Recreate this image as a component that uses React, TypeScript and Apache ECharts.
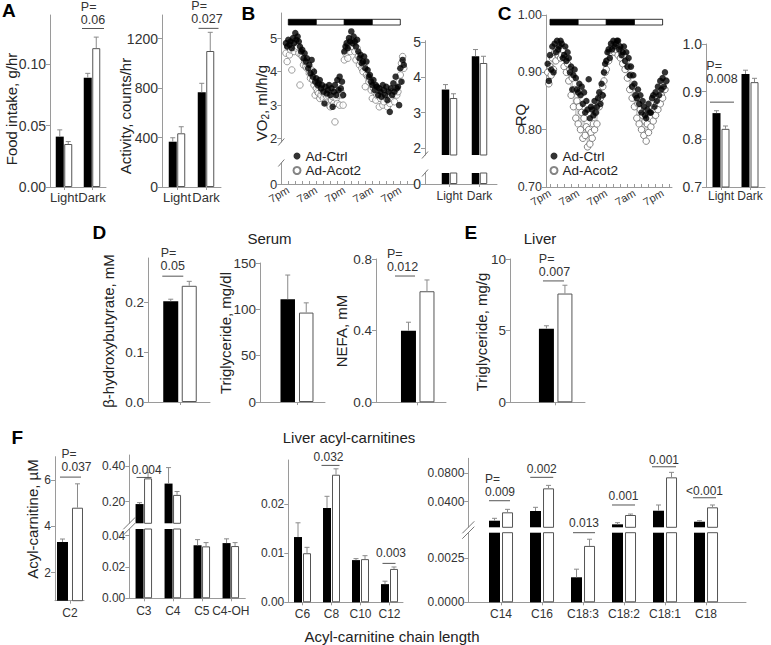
import React, { useEffect, useRef } from "react";
import * as echarts from "echarts";

const FONT = '"Liberation Sans", Arial, Helvetica, sans-serif';
const AXIS = "#9a9a9a";
const TXT = "#333";
const ERR = "#8a8a8a";

// ---------------- Panel A ----------------
const periods = ["Light", "Dark"];
const foodCtrl = [0.041, 0.089];
const foodCtrlSem = [0.0055, 0.0035];
const foodAcot = [0.035, 0.113];
const foodAcotSem = [0.002, 0.009];
const actCtrl = [366, 765];
const actCtrlSem = [32, 73];
const actAcot = [434, 1099];
const actAcotSem = [53, 151];

// ---------------- Panel B / C time courses ----------------
const clockTicks = [0, 12, 24, 36, 48];
const clockLabels = ["7pm", "7am", "7pm", "7am", "7pm"];
const ldStart = [0, 12, 24, 36];
const ldEnd = [12, 24, 36, 48];
const ldDark = [1, 0, 1, 0];
const T0 = -1; // first reading, hours from 7pm
const DT = 0.5; // reading interval, hours

const vo2Ctrl = [
  4.85, 4.75, 4.95, 4.8, 4.9, 4.7, 5.0, 4.85, 5.15, 4.95, 5.05, 4.9, 4.75, 4.6, 4.65, 4.4, 4.55, 4.3, 4.4, 4.1,
  4.2, 3.95, 4.35, 3.85, 4.0, 3.7, 3.8, 3.6, 3.65, 3.75, 3.5, 3.6, 3.4, 3.05, 3.55, 3.35, 3.45, 3.6, 3.3, 3.5,
  2.95, 3.4, 3.6, 3.3, 3.75, 3.45, 3.85, 3.5, 3.7, 3.3, 4.6, 4.75, 4.85, 4.7, 5.0, 4.9, 5.2, 4.85, 5.05, 4.9,
  4.75, 4.95, 4.6, 4.4, 4.5, 4.25, 4.3, 4.45, 4.1, 4.3, 4.05, 3.85, 3.9, 3.7, 3.6, 3.75, 3.45, 3.6, 3.55, 3.3,
  3.5, 3.4, 3.25, 3.6, 3.45, 3.3, 3.55, 3.15, 3.4, 2.8, 3.5, 3.3, 3.65, 3.4, 3.85, 3.5, 3.55, 3.0, 4.1, 3.7,
  4.35, 4.2,
];
const vo2Acot = [
  4.55, 4.3, 4.75, 4.5, 4.65, 4.05, 4.8, 4.6, 4.9, 4.7, 4.75, 4.55, 3.6, 4.5, 4.45, 4.2, 4.3, 4.15, 4.1, 4.25,
  3.95, 3.8, 4.05, 3.75, 3.6, 3.3, 3.5, 3.4, 3.35, 3.2, 3.3, 3.4, 3.2, 3.35, 3.1, 3.25, 3.3, 3.0, 2.95, 3.15,
  3.25, 3.05, 2.5, 3.2, 3.05, 3.3, 3.0, 3.4, 3.3, 3.0, 4.35, 4.55, 4.7, 4.4, 4.8, 4.6, 4.95, 4.75, 4.85, 4.6,
  4.35, 4.7, 4.45, 4.2, 4.3, 4.1, 4.0, 4.15, 3.55, 3.9, 3.85, 3.7, 3.75, 3.45, 3.2, 3.5, 3.4, 3.15, 3.3, 3.45,
  2.95, 3.2, 3.25, 3.0, 3.1, 3.35, 3.2, 2.95, 3.3, 3.05, 3.2, 3.4, 3.35, 3.1, 3.5, 3.3, 3.4, 3.7, 3.9, 4.25,
  4.45, 4.1,
];
const rqCtrl = [
  0.915, 0.885, 0.93, 0.905, 0.945, 0.9, 0.95, 0.935, 0.955, 0.94, 0.945, 0.955, 0.95, 0.925, 0.93, 0.945, 0.92, 0.935, 0.925, 0.9,
  0.91, 0.87, 0.895, 0.905, 0.89, 0.87, 0.865, 0.88, 0.86, 0.875, 0.845, 0.865, 0.83, 0.85, 0.835, 0.888, 0.82, 0.84, 0.835, 0.825,
  0.85, 0.83, 0.84, 0.855, 0.865, 0.845, 0.88, 0.86, 0.9, 0.915, 0.92, 0.935, 0.94, 0.925, 0.95, 0.94, 0.955, 0.945, 0.95, 0.955,
  0.955, 0.94, 0.945, 0.93, 0.935, 0.945, 0.92, 0.935, 0.91, 0.925, 0.895, 0.91, 0.875, 0.895, 0.88, 0.86, 0.855, 0.87, 0.845, 0.86,
  0.83, 0.85, 0.84, 0.825, 0.82, 0.835, 0.845, 0.83, 0.83, 0.855, 0.86, 0.84, 0.865, 0.85, 0.875, 0.86, 0.885, 0.87, 0.89, 0.875,
  0.9, 0.885,
];
const rqAcot = [
  0.9, 0.88, 0.91, 0.895, 0.925, 0.905, 0.935, 0.92, 0.94, 0.93, 0.945, 0.925, 0.93, 0.94, 0.91, 0.925, 0.9, 0.915, 0.885, 0.905,
  0.86, 0.89, 0.84, 0.87, 0.82, 0.85, 0.81, 0.84, 0.8, 0.83, 0.785, 0.82, 0.79, 0.805, 0.77, 0.8, 0.775, 0.795, 0.785, 0.81,
  0.8, 0.83, 0.81, 0.84, 0.84, 0.855, 0.86, 0.875, 0.885, 0.9, 0.905, 0.92, 0.92, 0.935, 0.935, 0.945, 0.945, 0.935, 0.94, 0.95,
  0.93, 0.945, 0.925, 0.935, 0.915, 0.93, 0.905, 0.92, 0.89, 0.91, 0.87, 0.895, 0.855, 0.875, 0.84, 0.86, 0.82, 0.845, 0.81, 0.835,
  0.8, 0.825, 0.79, 0.815, 0.78, 0.81, 0.795, 0.82, 0.805, 0.83, 0.815, 0.835, 0.825, 0.845, 0.835, 0.85, 0.845, 0.86, 0.855, 0.87,
  0.87, 0.885,
];
const vo2BarCtrl = [3.65, 4.59];
const vo2BarCtrlSem = [0.14, 0.19];
const vo2BarAcot = [3.41, 4.4];
const vo2BarAcotSem = [0.12, 0.19];
const rqBarCtrl = [0.855, 0.937];
const rqBarCtrlSem = [0.005, 0.008];
const rqBarAcot = [0.822, 0.92];
const rqBarAcotSem = [0.006, 0.008];

// ---------------- Panel D / E ----------------
const bhbCtrl = [0.203];
const bhbCtrlSem = [0.004];
const bhbAcot = [0.234];
const bhbAcotSem = [0.009];
const serumTgCtrl = [111];
const serumTgCtrlSem = [26];
const serumTgAcot = [96.5];
const serumTgAcotSem = [10.5];
const nefaCtrl = [0.4];
const nefaCtrlSem = [0.047];
const nefaAcot = [0.62];
const nefaAcotSem = [0.063];
const liverTgCtrl = [5.14];
const liverTgCtrlSem = [0.2];
const liverTgAcot = [7.59];
const liverTgAcotSem = [0.58];

// ---------------- Panel F ----------------
const acC2 = ["C2"];
const c2Ctrl = [3.32];
const c2CtrlSem = [0.13];
const c2Acot = [4.8];
const c2AcotSem = [1.03];
const acShort = ["C3", "C4", "C5", "C4-OH"];
const shortCtrl = [0.187, 0.301, 0.0339, 0.0353];
const shortCtrlSem = [0.008, 0.089, 0.0036, 0.0027];
const shortAcot = [0.33, 0.238, 0.0332, 0.0334];
const shortAcotSem = [0.032, 0.019, 0.0024, 0.0022];
const acMedium = ["C6", "C8", "C10", "C12"];
const medCtrl = [0.0133, 0.0192, 0.0086, 0.0037];
const medCtrlSem = [0.0029, 0.0024, 0.0003, 0.0006];
const medAcot = [0.01, 0.026, 0.0088, 0.0068];
const medAcotSem = [0.0012, 0.0012, 0.0007, 0.0004];
const acLong = ["C14", "C16", "C18:3", "C18:2", "C18:1", "C18"];
const longCtrl = [0.0138, 0.0272, 0.00142, 0.0088, 0.0276, 0.0124];
const longCtrlSem = [0.0033, 0.0051, 0.00046, 0.0023, 0.0079, 0.0014];
const longAcot = [0.0254, 0.0585, 0.0032, 0.0217, 0.0737, 0.0323];
const longAcotSem = [0.0041, 0.0041, 0.00038, 0.0013, 0.0069, 0.0032];

// ---------------- P-value annotations ----------------
const sigFood = [{ cat: 2, y: 0.129, text: "0.06", p: true, dx: 1, half: 11, tdy: -9 }];
const sigAct = [{ cat: 2, y: 1282, text: "0.027", p: true, dx: 2.5, half: 10, tdy: -9, tdx: -1.5 }];
const sigRq = [{ cat: 1, y: 0.878, text: "0.008", p: true, dx: 1, half: 12, tdy: -23 }];
const sigBhb = [{ cat: 1, y: 0.2534, text: "0.05", p: true, dx: -7.2, half: 10.5, tdy: -10 }];
const sigNefa = [{ cat: 1, y: 0.705, text: "0.012", p: true, dx: -12.7, half: 10, tdy: -9.3, tdx: -2.5 }];
const sigLiverTg = [{ cat: 1, y: 8.47, text: "0.007", p: true, dx: -2.2, half: 10.5, tdy: -9.3, tdx: 1 }];
const sigC2 = [{ cat: 1, y: 6.12, text: "0.037", p: true, dx: 0.5, half: 10.5, tdy: -10.6, tdx: 6 }];
const sigShort = [{ cat: 1, y: 0.335, text: "0.004", dx: 0.2, half: 7.5, tdy: -7, tdx: 2.7 }];
const sigMed = [
  { cat: 2, y: 0.0279, text: "0.032", dx: -1, half: 9, tdy: -8.3, tdx: -2 },
  { cat: 4, y: 0.00793, text: "0.003", dx: -0.5, half: 6.5, tdy: -10.6, tdx: 2 },
];
const sigLongUpper = [
  { cat: 1, y: 0.0414, text: "0.009", p: true, dx: -1.5, half: 10.5, tdy: -9, tdx: 0.5 },
  { cat: 2, y: 0.0737, text: "0.002", dx: -0.3, half: 11.5, tdy: -8 },
  { cat: 4, y: 0.0355, text: "0.001", dx: -0.5, half: 11.5, tdy: -9.3 },
  { cat: 5, y: 0.0883, text: "0.001", dx: -1, half: 12, tdy: -6.7 },
  { cat: 6, y: 0.0455, text: "<0.001", dx: -1.5, half: 11.5, tdy: -7 },
];
const sigLongLower = [{ cat: 3, y: 0.00395, text: "0.013", dx: 1, half: 11, tdy: -9.4 }];

let measureCtx: CanvasRenderingContext2D | null = null;
function textWidth(t: string, size: number) {
  if (!measureCtx) measureCtx = document.createElement("canvas").getContext("2d");
  if (!measureCtx) return t.length * size * 0.55;
  measureCtx.font = `${size}px ${FONT}`;
  return measureCtx.measureText(t).width;
}

function buildOption() {
  const grid: any[] = [];
  const xAxis: any[] = [];
  const yAxis: any[] = [];
  const series: any[] = [];
  const graphic: any[] = [];

  const addGrid = (b: any, xa: any, ya: any) => {
    const i = grid.length;
    grid.push({ left: b.l, top: b.t, width: b.r - b.l, height: b.b - b.t, containLabel: false });
    xAxis.push({ gridIndex: i, ...xa });
    yAxis.push({ gridIndex: i, ...ya });
    return i;
  };

  const yAx = (min: number, max: number, ticks: number[], dec: number, fs: number) => ({
    type: "value",
    min,
    max,
    axisLine: { show: true, onZero: false, lineStyle: { color: AXIS, width: 1 } },
    axisTick: { show: true, length: 4, customValues: ticks, lineStyle: { color: AXIS, width: 1 } },
    axisLabel: {
      show: true,
      customValues: ticks,
      margin: 4,
      color: TXT,
      fontSize: fs,
      fontFamily: FONT,
      formatter: (v: number) => Number(v).toFixed(dec),
    },
    splitLine: { show: false },
  });

  const xCat = (min: number, max: number, names: string[], fs: number, margin: number, showLabels = true) => {
    const pos = names.map((_, i) => i + 1);
    return {
      type: "value",
      min,
      max,
      axisLine: { show: true, onZero: false, lineStyle: { color: AXIS, width: 1 } },
      axisTick: { show: true, length: 3, customValues: pos, lineStyle: { color: AXIS, width: 1 } },
      axisLabel: {
        show: showLabels,
        customValues: pos,
        margin,
        color: TXT,
        fontSize: fs,
        fontFamily: FONT,
        formatter: (v: number) => names[Math.round(v) - 1] ?? "",
      },
      splitLine: { show: false },
    };
  };

  const xHidden = (min: number, max: number) => ({ type: "value", min, max, show: false, splitLine: { show: false } });

  const hourTicks: number[] = [];
  for (let h = -3; h <= 54; h += 3) hourTicks.push(h);

  const xTime = (min: number, max: number, fs: number) => ({
    type: "value",
    min,
    max,
    axisLine: { show: true, onZero: false, lineStyle: { color: AXIS, width: 1 } },
    axisTick: {
      show: true,
      inside: true,
      length: 3,
      customValues: hourTicks.filter((h) => h >= min && h <= max),
      lineStyle: { color: AXIS, width: 1 },
    },
    axisLabel: {
      show: true,
      customValues: clockTicks,
      rotate: 30,
      margin: 5,
      color: TXT,
      fontSize: fs,
      fontFamily: FONT,
      formatter: (v: number) => {
        const k = clockTicks.findIndex((c) => Math.abs(c - v) < 1e-6);
        return k >= 0 ? clockLabels[k] : "";
      },
    },
    splitLine: { show: false },
  });

  const addErr = (gi: number, vals: number[], sem: number[], off: number, lo: number, hi: number) => {
    const data = vals
      .map((v, i) => [i + 1, v, sem[i]])
      .filter((d) => d[1] >= lo && d[1] <= hi);
    series.push({
      type: "custom",
      xAxisIndex: gi,
      yAxisIndex: gi,
      silent: true,
      clip: true,
      z: 3,
      data,
      renderItem: (params: any, api: any) => {
        const x = api.value(0);
        const y = api.value(1);
        const e = api.value(2);
        const p0 = api.coord([x, y]);
        const p1 = api.coord([x, y + e]);
        const px = p0[0] + off;
        return {
          type: "group",
          children: [
            { type: "line", shape: { x1: px, y1: p0[1], x2: px, y2: p1[1] }, style: { stroke: ERR, lineWidth: 1 } },
            { type: "line", shape: { x1: px - 2.5, y1: p1[1], x2: px + 2.5, y2: p1[1] }, style: { stroke: ERR, lineWidth: 1 } },
          ],
        };
      },
    });
  };

  const addBars = (
    gi: number,
    c: number[],
    cs: number[],
    a: number[],
    as: number[],
    bw: number,
    gap: number,
    lo = -Infinity,
    hi = Infinity
  ) => {
    const gapPct = `${(gap / bw) * 100}%`;
    series.push({
      type: "bar",
      name: "ctrl-bar",
      xAxisIndex: gi,
      yAxisIndex: gi,
      data: c.map((v, i) => [i + 1, v]),
      barWidth: bw,
      barGap: gapPct,
      clip: true,
      silent: true,
      itemStyle: { color: "#000", borderColor: "#000", borderWidth: 0 },
    });
    series.push({
      type: "bar",
      name: "acot-bar",
      xAxisIndex: gi,
      yAxisIndex: gi,
      data: a.map((v, i) => [i + 1, v]),
      barWidth: bw,
      barGap: gapPct,
      clip: true,
      silent: true,
      itemStyle: { color: "#fff", borderColor: "#555", borderWidth: 1 },
    });
    const off = (bw + gap) / 2;
    addErr(gi, c, cs, -off, lo, hi);
    addErr(gi, a, as, off, lo, hi);
  };

  const addSig = (gi: number, items: any[], fs: number) => {
    series.push({
      type: "custom",
      xAxisIndex: gi,
      yAxisIndex: gi,
      silent: true,
      clip: false,
      z: 6,
      data: items.map((s) => [s.cat, s.y]),
      renderItem: (params: any, api: any) => {
        const s = items[params.dataIndex];
        const p = api.coord([api.value(0), api.value(1)]);
        const cx = p[0] + s.dx;
        const tx = cx + (s.tdx || 0);
        const ty = p[1] + s.tdy;
        const baseStyle = { fontSize: fs, fontFamily: FONT, fill: TXT };
        const children: any[] = [
          { type: "line", shape: { x1: cx - s.half, y1: p[1], x2: cx + s.half, y2: p[1] }, style: { stroke: "#555", lineWidth: 1 } },
          {
            type: "text",
            x: tx,
            y: ty,
            style: { ...baseStyle, text: s.text, align: "center", verticalAlign: "middle", textAlign: "center", textVerticalAlign: "middle" },
          },
        ];
        if (s.p) {
          children.push({
            type: "text",
            x: tx - textWidth(s.text, fs) / 2,
            y: ty - 13,
            style: { ...baseStyle, text: "P=", align: "left", verticalAlign: "middle", textAlign: "left", textVerticalAlign: "middle" },
          });
        }
        return { type: "group", children };
      },
    });
  };

  const addLD = (gi: number, yOff: number, h: number, yRef: number) => {
    series.push({
      type: "custom",
      xAxisIndex: gi,
      yAxisIndex: gi,
      silent: true,
      clip: false,
      z: 6,
      data: ldStart.map((s, i) => [s, ldEnd[i], ldDark[i]]),
      renderItem: (params: any, api: any) => {
        const cs = params.coordSys;
        const x0 = api.coord([api.value(0), yRef])[0];
        const x1 = api.coord([api.value(1), yRef])[0];
        return {
          type: "rect",
          shape: { x: x0, y: cs.y + yOff, width: x1 - x0, height: h },
          style: { fill: api.value(2) ? "#000" : "#fff", stroke: "#000", lineWidth: 0.8 },
        };
      },
    });
  };

  const timeData = (vals: number[]) => vals.map((v, i) => [T0 + i * DT, v]);

  // ---------- Panel A ----------
  const gFood = addGrid({ l: 50, t: 15, r: 106, b: 187 }, xCat(0.5, 2.5, periods, 13, 4), yAx(0, 0.14, [0, 0.05, 0.1], 2, 14));
  addBars(gFood, foodCtrl, foodCtrlSem, foodAcot, foodAcotSem, 8, 0.5);
  addSig(gFood, sigFood, 12.5);

  const gAct = addGrid({ l: 162, t: 15, r: 221, b: 187 }, xCat(0.483, 2.517, periods, 13, 4), yAx(0, 1390, [0, 400, 800, 1200], 0, 14));
  addBars(gAct, actCtrl, actCtrlSem, actAcot, actAcotSem, 8, 0.5);
  addSig(gAct, sigAct, 12.5);

  // ---------- Panel B ----------
  const gVo2U = addGrid({ l: 281.3, t: 13, r: 414.3, b: 142 }, xHidden(-3, 54), yAx(1.9, 5.75, [2, 3, 4, 5], 0, 13));
  const gVo2L = addGrid({ l: 281.3, t: 163, r: 414.3, b: 184 }, xTime(-3, 54, 11), yAx(0, 0.63, [0], 0, 13));
  series.push({
    type: "scatter",
    name: "Ad-Acot2",
    xAxisIndex: gVo2U,
    yAxisIndex: gVo2U,
    data: timeData(vo2Acot),
    symbol: "circle",
    symbolSize: 6.5,
    silent: true,
    itemStyle: { color: "#fff", borderColor: "#666", borderWidth: 0.8 },
    z: 2,
  });
  series.push({
    type: "scatter",
    name: "Ad-Ctrl",
    xAxisIndex: gVo2U,
    yAxisIndex: gVo2U,
    data: timeData(vo2Ctrl),
    symbol: "circle",
    symbolSize: 6.5,
    silent: true,
    itemStyle: { color: "#000" },
    z: 3,
  });
  addLD(gVo2U, 6.3, 5.7, 5);

  const gVbU = addGrid({ l: 425, t: 40.7, r: 497, b: 155 }, xHidden(0.183, 2.583), yAx(1.8, 5.03, [2, 3, 4, 5], 0, 14));
  const gVbL = addGrid({ l: 425, t: 173, r: 497, b: 184 }, xCat(0.183, 2.583, periods, 12, 6), yAx(0, 0.31, [0], 0, 14));
  addBars(gVbU, vo2BarCtrl, vo2BarCtrlSem, vo2BarAcot, vo2BarAcotSem, 7.5, 0.5, 1.8, Infinity);
  addBars(gVbL, vo2BarCtrl, vo2BarCtrlSem, vo2BarAcot, vo2BarAcotSem, 7.5, 0.5, -Infinity, 0.31);

  // ---------- Panel C ----------
  const gRq = addGrid({ l: 546, t: 15, r: 672, b: 187 }, xTime(-1.7, 52, 11), yAx(0.7, 1.0, [0.7, 0.8, 0.9, 1.0], 2, 12.5));
  series.push({
    type: "line",
    name: "Ad-Acot2",
    xAxisIndex: gRq,
    yAxisIndex: gRq,
    data: timeData(rqAcot),
    symbol: "circle",
    symbolSize: 6.5,
    showSymbol: true,
    silent: true,
    lineStyle: { color: "#b0b0b0", width: 0.6 },
    itemStyle: { color: "#fff", borderColor: "#666", borderWidth: 0.8 },
    z: 2,
  });
  series.push({
    type: "scatter",
    name: "Ad-Ctrl",
    xAxisIndex: gRq,
    yAxisIndex: gRq,
    data: timeData(rqCtrl),
    symbol: "circle",
    symbolSize: 6.5,
    silent: true,
    itemStyle: { color: "#000" },
    z: 3,
  });
  addLD(gRq, 4.3, 5.7, 0.9);

  const gRqB = addGrid({ l: 706, t: 44, r: 765, b: 187 }, xCat(0.483, 2.517, periods, 12, 3), yAx(0.7, 1.0, [0.7, 0.8, 0.9, 1.0], 1, 14));
  addBars(gRqB, rqBarCtrl, rqBarCtrlSem, rqBarAcot, rqBarAcotSem, 8, 1);
  addSig(gRqB, sigRq, 12.5);

  // ---------- Panel D ----------
  const gBhb = addGrid({ l: 148, t: 258, r: 210, b: 402 }, xCat(0.484, 1.484, ["Serum"], 12, 4, false), yAx(0, 0.29, [0, 0.1, 0.2], 1, 13.5));
  addBars(gBhb, bhbCtrl, bhbCtrlSem, bhbAcot, bhbAcotSem, 15, 3.5);
  addSig(gBhb, sigBhb, 12.5);

  const gTg = addGrid({ l: 260, t: 263, r: 325, b: 402 }, xCat(0.431, 1.431, ["Serum"], 12, 4, false), yAx(0, 150, [0, 50, 100, 150], 0, 13.5));
  addBars(gTg, serumTgCtrl, serumTgCtrlSem, serumTgAcot, serumTgAcotSem, 14.5, 4);

  const gNefa = addGrid({ l: 376, t: 259, r: 446, b: 402.3 }, xCat(0.404, 1.404, ["Serum"], 12, 4, false), yAx(0, 0.8, [0, 0.4, 0.8], 1, 13.5));
  addBars(gNefa, nefaCtrl, nefaCtrlSem, nefaAcot, nefaAcotSem, 15, 3.5);
  addSig(gNefa, sigNefa, 12.5);

  // ---------- Panel E ----------
  const gLtg = addGrid({ l: 510, t: 259, r: 585, b: 402.3 }, xCat(0.391, 1.391, ["Liver"], 12, 4, false), yAx(0, 10, [0, 5, 10], 0, 13.5));
  addBars(gLtg, liverTgCtrl, liverTgCtrlSem, liverTgAcot, liverTgAcotSem, 15, 3.5);
  addSig(gLtg, sigLiverTg, 12.5);

  // ---------- Panel F ----------
  const gC2 = addGrid({ l: 55, t: 456.7, r: 84, b: 600.7 }, xCat(0.483, 1.483, acC2, 12, 6), yAx(0.79, 7.0, [2, 4, 6], 0, 12));
  addBars(gC2, c2Ctrl, c2CtrlSem, c2Acot, c2AcotSem, 11, 4);
  addSig(gC2, sigC2, 12);

  const gShU = addGrid({ l: 129.3, t: 455, r: 245.3, b: 523.3 }, xHidden(0.5, 4.5), yAx(0.08, 0.46, [0.2, 0.4], 2, 12));
  const gShL = addGrid({ l: 129.3, t: 529, r: 245.3, b: 598.3 }, xCat(0.5, 4.5, acShort, 12, 7), yAx(0, 0.0443, [0, 0.02, 0.04], 2, 12));
  addBars(gShU, shortCtrl, shortCtrlSem, shortAcot, shortAcotSem, 8, 0.5, 0.08, Infinity);
  addBars(gShL, shortCtrl, shortCtrlSem, shortAcot, shortAcotSem, 8, 0.5, -Infinity, 0.0443);
  addSig(gShU, sigShort, 12);

  const gMed = addGrid({ l: 288.3, t: 460, r: 403, b: 602.3 }, xCat(0.51, 4.465, acMedium, 12, 6), yAx(0, 0.029, [0, 0.01, 0.02], 2, 12));
  addBars(gMed, medCtrl, medCtrlSem, medAcot, medAcotSem, 8, 1);
  addSig(gMed, sigMed, 12);

  const gLoU = addGrid({ l: 468.3, t: 458.3, r: 746, b: 527.3 }, xHidden(0.202, 6.975), yAx(0.0047, 0.1, [0.04, 0.08], 4, 12));
  const gLoL = addGrid({ l: 468.3, t: 532.7, r: 746, b: 602.3 }, xCat(0.202, 6.975, acLong, 12, 6), yAx(0, 0.00395, [0, 0.0025], 4, 12));
  addBars(gLoU, longCtrl, longCtrlSem, longAcot, longAcotSem, 11, 2, 0.0047, Infinity);
  addBars(gLoL, longCtrl, longCtrlSem, longAcot, longAcotSem, 11, 2, -Infinity, 0.00395);
  addSig(gLoU, sigLongUpper, 12);
  addSig(gLoL, sigLongLower, 12);

  // ---------- graphic texts and decorations ----------
  const txt = (text: string, x: number, y: number, size: number, extra: any = {}) => ({
    type: "text",
    x,
    y,
    silent: true,
    z: 10,
    rotation: extra.rot || 0,
    style: {
      text,
      fontSize: size,
      fontFamily: FONT,
      fontWeight: extra.bold ? "bold" : "normal",
      fill: extra.fill || "#222",
      align: "center",
      verticalAlign: "middle",
      textAlign: "center",
      textVerticalAlign: "middle",
      ...(extra.rich ? { rich: extra.rich } : {}),
    },
  });
  const letters: [string, number, number][] = [
    ["A", 8.8, 10.7],
    ["B", 248.3, 13.7],
    ["C", 504.5, 13.7],
    ["D", 99.3, 232],
    ["E", 470.8, 232],
    ["F", 17.2, 437.8],
  ];
  letters.forEach(([t, x, y]) => graphic.push(txt(t, x, y, 19, { bold: true, fill: "#000" })));
  graphic.push(txt("Serum", 269.5, 238, 15));
  graphic.push(txt("Liver", 540, 238, 15));
  graphic.push(txt("Liver acyl-carnitines", 349, 437, 15));
  graphic.push(txt("Acyl-carnitine chain length", 392, 636, 15));

  const R = Math.PI / 2;
  graphic.push(txt("Food intake, g/hr", 11.5, 109, 15, { rot: R }));
  graphic.push(txt("Activity, counts/hr", 125, 116, 15, { rot: R }));
  graphic.push(
    txt("VO{s|2}, ml/h/g", 261.5, 103, 15, {
      rot: R,
      rich: { s: { fontSize: 10, fontFamily: FONT, fill: "#222", padding: [7, 0, 0, 0] } },
    })
  );
  graphic.push(txt("RQ", 520, 115, 15, { rot: R }));
  graphic.push(txt("β-hydroxybutyrate, mM", 108.3, 331, 15, { rot: R }));
  graphic.push(txt("Triglyceride, mg/dl", 225, 333, 15, { rot: R }));
  graphic.push(txt("NEFA, mM", 341, 331, 15, { rot: R }));
  graphic.push(txt("Triglyceride, mg/g", 481.5, 332, 15, { rot: R }));
  graphic.push(txt("Acyl-carnitine, µM", 32.5, 519, 15, { rot: R }));

  const slash = (x: number, y: number, w: number, h: number) => ({
    type: "line",
    silent: true,
    z: 10,
    shape: { x1: x - w, y1: y + h, x2: x + w, y2: y - h },
    style: { stroke: "#777", lineWidth: 1 },
  });
  graphic.push(slash(281.3, 142, 3, 3.5));
  graphic.push(slash(281.3, 163, 3, 3.5));
  graphic.push(slash(425, 155, 3, 3.5));
  graphic.push(slash(425, 173, 3, 3.5));
  graphic.push(slash(129.3, 523.3, 6, 6));
  graphic.push(slash(129.3, 529, 6, 6));
  graphic.push(slash(468.3, 527.3, 6, 6));
  graphic.push(slash(468.3, 532.7, 6, 6));

  const legendBase = {
    data: ["Ad-Ctrl", "Ad-Acot2"],
    orient: "vertical",
    padding: 0,
    itemGap: 0.5,
    itemWidth: 7,
    itemHeight: 7,
    icon: "circle",
    selectedMode: false,
    textStyle: { fontSize: 13.5, fontFamily: FONT, color: "#222", lineHeight: 14 },
  };

  return {
    animation: false,
    backgroundColor: "#fff",
    textStyle: { fontFamily: FONT },
    grid,
    xAxis,
    yAxis,
    series,
    graphic: { elements: graphic },
    legend: [
      { ...legendBase, left: 292.5, top: 149 },
      { ...legendBase, left: 549.5, top: 149 },
    ],
  };
}

export default function App() {
  const ref = useRef<HTMLDivElement>(null);
  useEffect(() => {
    if (!ref.current) return;
    const chart = echarts.init(ref.current, null, { renderer: "svg" });
    chart.setOption(buildOption() as any);
    return () => chart.dispose();
  }, []);
  return (
    <div
      ref={ref}
      style={{ position: "fixed", left: 0, top: 0, width: 771, height: 645, background: "#fff" }}
    />
  );
}
